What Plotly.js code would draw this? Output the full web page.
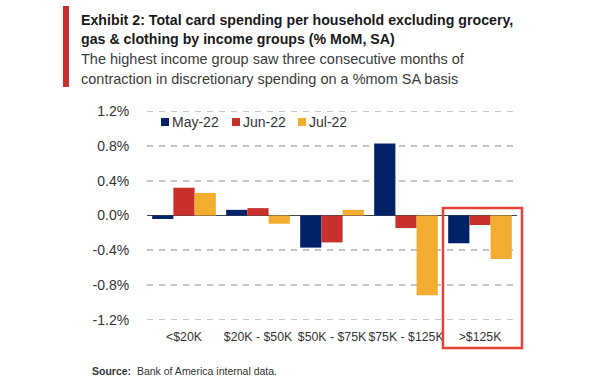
<!DOCTYPE html>
<html>
<head>
<meta charset="utf-8">
<script src="https://cdn.plot.ly/plotly-3.0.1.min.js"></script>
<style>
  html, body { margin: 0; padding: 0; background: #ffffff; }
  #chart { width: 600px; height: 378px; }
</style>
</head>
<body>
<div id="chart"></div>
<script>
// ---- data ----
const categories = ["<$20K", "$20K - $50K", "$50K - $75K", "$75K - $125K", ">$125K"];
const seriesNames = ["May-22", "Jun-22", "Jul-22"];
const may22 = [-0.04, 0.065, -0.37, 0.83, -0.32];
const jun22 = [0.32, 0.085, -0.31, -0.145, -0.11];
const jul22 = [0.26, -0.095, 0.065, -0.92, -0.50];
const tickValues = [-1.2, -0.8, -0.4, 0.0, 0.4, 0.8, 1.2];
const tickLabels = ["-1.2%", "-0.8%", "-0.4%", "0.0%", "0.4%", "0.8%", "1.2%"];

const seriesValues = [may22, jun22, jul22];
const colors = ["#012169", "#c8302c", "#f2ad30"];
const FONT = "'Liberation Sans', Arial, sans-serif";

// plot area in pixels
const W = 600, H = 378;
const L = 147, R = 517, T = 107, B = 324;
const px = x => (x - L) / (R - L);
const py = y => (B - y) / (B - T);

const traces = seriesValues.map((vals, i) => ({
  type: "bar",
  name: seriesNames[i],
  x: categories,
  y: vals,
  marker: { color: colors[i] },
  showlegend: false,
  hoverinfo: "x+y+name"
}));

const legendX = [161, 232, 298];
const shapes = [
  // red accent bar beside title
  { type: "rect", xref: "paper", yref: "paper", x0: px(63), x1: px(69), y0: py(87), y1: py(6),
    fillcolor: "#c8302c", line: { width: 0 } },
  // highlight box
  { type: "rect", xref: "paper", yref: "paper", x0: px(443), x1: px(522), y0: py(348), y1: py(208),
    fillcolor: "rgba(0,0,0,0)", line: { color: "#e8413a", width: 2.5 } }
];
const annotations = [
  { text: "<b>Exhibit 2: Total card spending per household excluding grocery,</b>", x: px(79), y: py(20), size: 14.2, color: "#1a1a1a" },
  { text: "<b>gas &amp; clothing by income groups (% MoM, SA)</b>", x: px(79), y: py(39), size: 14.2, color: "#1a1a1a" },
  { text: "The highest income group saw three consecutive months of", x: px(79), y: py(59), size: 14.5, color: "#3a3a3a" },
  { text: "contraction in discretionary spending on a %mom SA basis", x: px(79), y: py(79), size: 14.5, color: "#3a3a3a" },
  { text: "<b>Source:</b>  Bank of America internal data.", x: px(90), y: py(371), size: 10.5, color: "#333" }
].map(a => ({
  text: a.text, xref: "paper", yref: "paper", x: a.x, y: a.y,
  xanchor: "left", yanchor: "middle", showarrow: false,
  font: { family: FONT, size: a.size, color: a.color }
}));

seriesNames.forEach((n, i) => {
  shapes.push({ type: "rect", xref: "paper", yref: "paper",
    x0: px(legendX[i]), x1: px(legendX[i] + 8), y0: py(126), y1: py(118),
    fillcolor: colors[i], line: { width: 0 } });
  annotations.push({ text: n, xref: "paper", yref: "paper", x: px(legendX[i] + 9), y: py(122),
    xanchor: "left", yanchor: "middle", showarrow: false,
    font: { family: FONT, size: 14, color: "#333" } });
});

const layout = {
  width: W, height: H,
  margin: { l: L, r: W - R, t: T, b: H - B, pad: 0 },
  paper_bgcolor: "#ffffff", plot_bgcolor: "#ffffff",
  barmode: "group", bargap: 0.14, bargroupgap: 0,
  showlegend: false,
  font: { family: FONT, color: "#333" },
  xaxis: {
    type: "category", range: [-0.5, 4.5], showgrid: false, zeroline: false, showline: false,
    ticks: "outside", ticklen: 1, tickcolor: "rgba(0,0,0,0)", tickangle: 0,
    tickfont: { family: FONT, size: 12.3, color: "#333" }, fixedrange: true
  },
  yaxis: {
    range: [-1.25, 1.25], tickmode: "array", tickvals: tickValues, ticktext: tickLabels,
    showgrid: true, gridcolor: "#c4c4c4", gridwidth: 1.5, griddash: "6px,6px",
    zeroline: true, zerolinecolor: "#444", zerolinewidth: 1.5, showline: false,
    ticks: "outside", ticklen: 14, tickcolor: "rgba(0,0,0,0)",
    tickfont: { family: FONT, size: 14, color: "#333" }, fixedrange: true
  },
  shapes: shapes,
  annotations: annotations
};

Plotly.newPlot("chart", traces, layout, { displayModeBar: false, staticPlot: true });
</script>
</body>
</html>
